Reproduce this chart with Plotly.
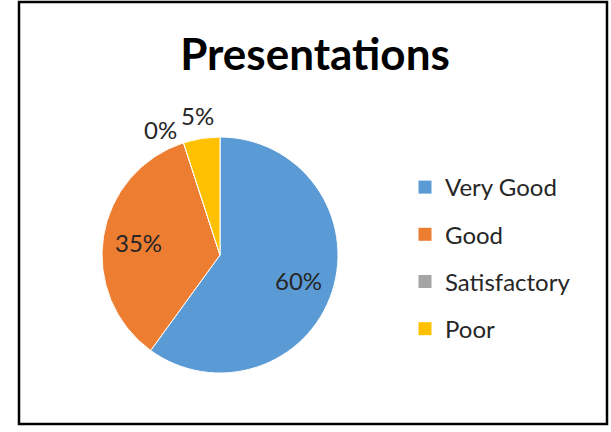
import math
import plotly.graph_objects as go

categories = ["Very Good", "Good", "Satisfactory", "Poor"]
values = [60, 35, 0, 5]
colors = ["#5B9BD5", "#ED7D31", "#A5A5A5", "#FFC000"]
title_text = "Presentations"

FONT = "Lato, Calibri, Carlito, sans-serif"
TXT = "#262626"

total = sum(values)

# pie geometry (paper fractions)
dx = [102/611, 338/611]
dy = [59/432, 295/432]

fig = go.Figure()
fig.add_trace(go.Pie(
    labels=categories, values=values, sort=False, direction="clockwise", rotation=0,
    marker=dict(colors=colors, line=dict(color="white", width=1)),
    textinfo="none",
    showlegend=False,
    domain=dict(x=dx, y=dy),
))

# data labels placed Excel-style along each slice's mid-angle
annotations = []
cx = (dx[0] + dx[1]) / 2 * 611
cy = (1 - (dy[0] + dy[1]) / 2) * 432
R = (dx[1] - dx[0]) * 611 / 2
cum = 0
for name, v in zip(categories, values):
    frac = v / total
    mid = math.radians(360 * (cum + v / 2) / total)
    if v == 0:
        r, xa = 1.12 * R, "right"
    elif frac < 0.2:
        r, xa = 1.2 * R, "center"
    else:
        r, xa = 0.7 * R, "center"
    px = cx + r * math.sin(mid)
    py = cy - r * math.cos(mid)
    annotations.append(dict(
        text=f"{frac:.0%}", xref="paper", yref="paper",
        x=px / 611, y=1 - py / 432, xanchor=xa, yanchor="middle",
        showarrow=False, font=dict(family=FONT, size=24, color=TXT)))
    cum += v

# legend entries
for name, col in zip(categories, colors):
    fig.add_trace(go.Scatter(
        x=[None], y=[None], mode="markers", name=name, legendgroup=name,
        marker=dict(symbol="square", size=13, color=col),
    ))

fig.update_layout(
    width=611, height=432,
    margin=dict(l=0, r=0, t=0, b=0),
    paper_bgcolor="white", plot_bgcolor="white",
    title=dict(text=f"<b>{title_text}</b>", x=315/611, xanchor="center", y=1-55/432, yanchor="middle",
               font=dict(family=FONT, size=44, color="black")),
    xaxis=dict(visible=False), yaxis=dict(visible=False),
    legend=dict(x=405/611, xanchor="left", y=1-165/432, yanchor="top",
                font=dict(family=FONT, size=24, color=TXT), tracegroupgap=13,
                bgcolor="rgba(0,0,0,0)"),
    annotations=annotations,
    shapes=[dict(type="rect", xref="paper", yref="paper",
                 x0=19/611, x1=607/611, y0=1-424/432, y1=1-2/432,
                 line=dict(color="black", width=2.5))],
)

fig.write_html("out.html")
